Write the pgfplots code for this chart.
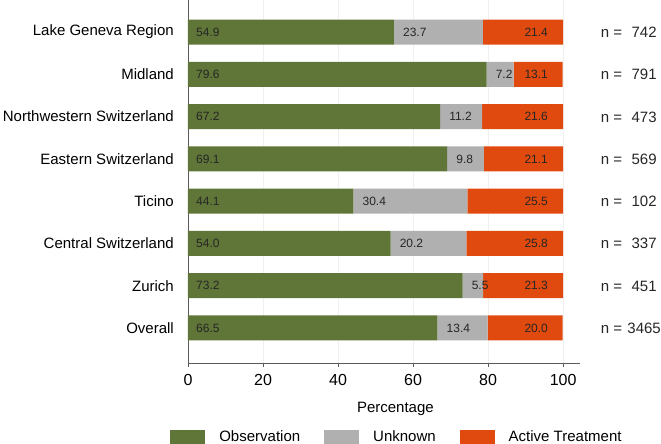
\documentclass[border=0pt]{standalone}
\usepackage{fontspec}
\setmainfont{Liberation Sans}
\usepackage{pgfplots}
\usepackage{pgfplotstable}
\pgfplotsset{compat=1.18}
\definecolor{cgreen}{RGB}{96,118,56}
\definecolor{cgray}{RGB}{176,176,176}
\definecolor{corange}{RGB}{225,74,14}
\definecolor{axisgray}{RGB}{90,90,90}
\pgfplotstableread{
y obs unk act n
7 54.9 23.7 21.4 742
6 79.6 7.2 13.1 791
5 67.2 11.2 21.6 473
4 69.1 9.8 21.1 569
3 44.1 30.4 25.5 102
2 54.0 20.2 25.8 337
1 73.2 5.5 21.3 451
0 66.5 13.4 20.0 3465
}\data
\begin{document}
\begin{tikzpicture}
\pgfplotsset{
  common/.style={
    at={(0,0)}, anchor=south west,
    width=392pt, height=363pt, scale only axis,
    xmin=0, xmax=104.5, ymin=-0.83, ymax=7.76,
  }
}
\begin{axis}[common,
  xbar stacked, bar width=25pt,
  axis x line*=bottom, axis y line*=left,
  axis line style={axisgray, line width=0.8pt},
  xtick={0,20,40,60,80,100},
  ytick={0,1,2,3,4,5,6,7},
  yticklabels={Overall, Zurich, Central Switzerland, Ticino, Eastern Switzerland, Northwestern Switzerland, Midland, Lake Geneva Region},
  ytick style={draw=none},
  xtick style={axisgray, line width=0.8pt},
  tick align=outside, major tick length=4pt,
  /pgf/number format/assume math mode=true,
  xticklabel style={font=\fontsize{16}{18}\selectfont, inner sep=0pt, anchor=north, yshift=-7pt},
  yticklabel style={font=\fontsize{15}{17}\selectfont, inner sep=0pt, anchor=east, xshift=-10pt},
  xmajorgrids, grid style={gray!12, line width=0.6pt},
  xlabel={Percentage},
  xlabel style={font=\fontsize{15}{17}\selectfont, at={(axis description cs:0.529,0)}, anchor=center, yshift=-46pt},
  legend columns=3,
  legend style={draw=none, fill=none, at={(axis description cs:0.533,-0.174)}, anchor=north,
    font=\fontsize{15}{17}\selectfont,
    /tikz/every even column/.append style={column sep=22pt},
    /tikz/every odd column/.append style={column sep=12pt}},
  legend image code/.code={\fill[#1] (0pt,-7pt) rectangle (35pt,7pt);},
]
\addplot[fill=cgreen, draw=none] table[x=obs, y=y] {\data};
\addlegendentry{Observation}
\addplot[fill=cgray, draw=none] table[x=unk, y=y] {\data};
\addlegendentry{Unknown}
\addplot[fill=corange, draw=none] table[x=act, y=y] {\data};
\addlegendentry{Active Treatment}
\end{axis}
\begin{axis}[common, hide axis, clip=false,
  nodes near coords, point meta=explicit symbolic,
  every node near coord/.append style={font=\fontsize{12}{14}\selectfont, inner sep=0pt, text=black!85},
]
\addplot[draw=none, mark=none, nodes near coords style={anchor=west, xshift=8pt}]
  table[x expr=0, y=y, meta=obs] {\data};
\addplot[draw=none, mark=none, nodes near coords style={anchor=west, xshift=9pt}]
  table[x=obs, y=y, meta=unk] {\data};
\addplot[draw=none, mark=none, nodes near coords style={anchor=east, xshift=-15pt}]
  table[x expr=100, y=y, meta=act] {\data};
\addplot[draw=none, mark=none, nodes near coords={n =}, nodes near coords style={anchor=base west, yshift=-5.4pt, font=\fontsize{15}{17}\selectfont}]
  table[x expr=110.0, y=y, meta=n] {\data};
\addplot[draw=none, mark=none, nodes near coords style={anchor=base, yshift=-5.4pt, font=\fontsize{15}{17}\selectfont}]
  table[x expr=121.6, y=y, meta=n] {\data};
\end{axis}
\pgfresetboundingbox
\path (-188pt,-81pt) rectangle (473pt,363pt);
\end{tikzpicture}
\end{document}
